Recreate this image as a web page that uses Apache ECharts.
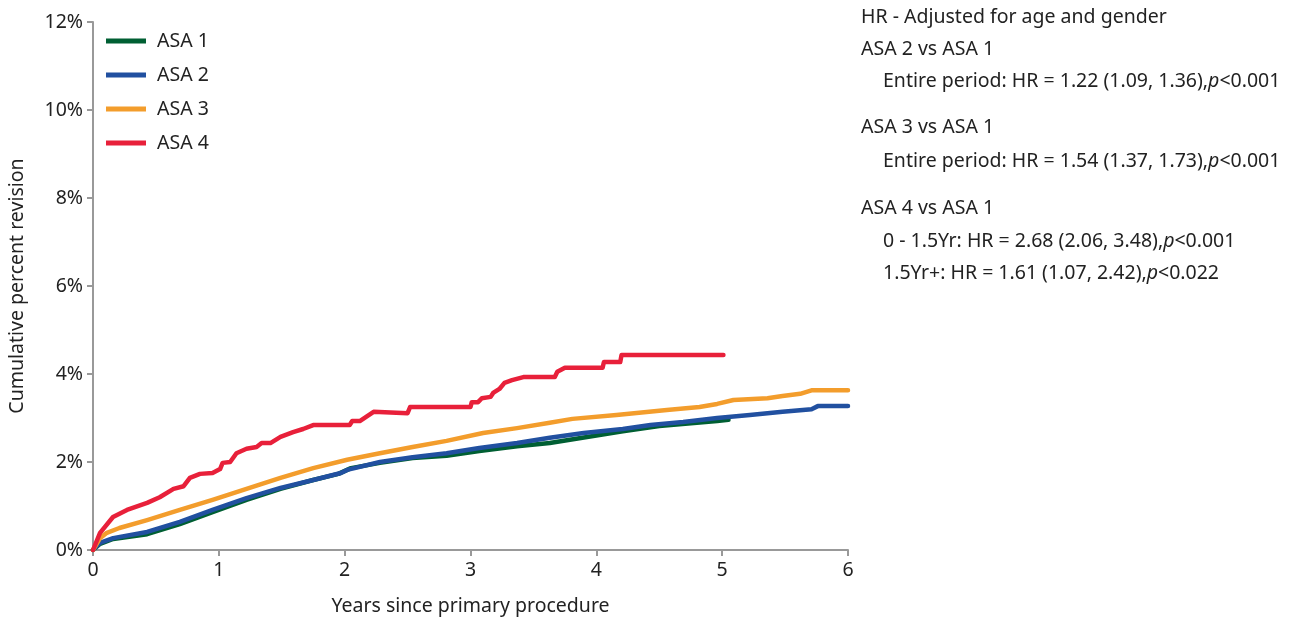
<!DOCTYPE html>
<html>
<head>
<meta charset="utf-8">
<script src="https://cdn.jsdelivr.net/npm/echarts@6/dist/echarts.min.js"></script>
<style>
  html, body { margin: 0; padding: 0; background: #fff; }
  #chart { width: 1295px; height: 620px; }
</style>
</head>
<body>
<div id="chart"></div>
<script>
// years since primary procedure, cumulative percent revision
const asa1 = [
  [0, 0], [0.056, 0.14], [0.16, 0.25], [0.43, 0.36], [0.69, 0.59], [0.95, 0.86],
  [1.22, 1.14], [1.49, 1.39], [1.75, 1.59], [1.95, 1.73], [2.05, 1.86], [2.28, 1.98],
  [2.54, 2.09], [2.81, 2.14], [3.07, 2.25], [3.37, 2.36], [3.63, 2.43], [4.21, 2.70],
  [4.5, 2.82], [4.96, 2.93], [5.05, 2.96]
];
const asa2 = [
  [0, 0], [0.056, 0.16], [0.16, 0.27], [0.43, 0.41], [0.69, 0.64], [0.95, 0.91],
  [1.22, 1.18], [1.49, 1.41], [1.75, 1.59], [1.97, 1.75], [2.02, 1.82], [2.28, 2.0],
  [2.54, 2.11], [2.81, 2.2], [3.07, 2.32], [3.37, 2.43], [3.63, 2.55], [3.9, 2.66],
  [4.21, 2.75], [4.43, 2.84], [4.69, 2.91], [4.96, 3.0], [5.22, 3.07], [5.48, 3.14],
  [5.71, 3.2], [5.76, 3.27], [6.0, 3.27]
];
const asa3 = [
  [0, 0], [0.056, 0.27], [0.11, 0.39], [0.21, 0.5], [0.43, 0.68], [0.69, 0.91],
  [0.95, 1.14], [1.22, 1.39], [1.49, 1.64], [1.75, 1.86], [2.02, 2.05], [2.28, 2.2],
  [2.54, 2.34], [2.81, 2.48], [3.1, 2.66], [3.37, 2.77], [3.63, 2.89], [3.81, 2.98],
  [4.16, 3.07], [4.56, 3.18], [4.82, 3.25], [4.96, 3.32], [5.09, 3.41], [5.36, 3.45],
  [5.48, 3.5], [5.62, 3.55], [5.71, 3.63], [6.0, 3.63]
];
const asa4 = [
  [0, 0], [0.056, 0.39], [0.159, 0.75], [0.27, 0.91], [0.43, 1.07], [0.53, 1.2],
  [0.64, 1.39], [0.72, 1.45], [0.77, 1.64], [0.85, 1.73], [0.95, 1.75], [1.01, 1.84],
  [1.03, 1.98], [1.09, 2.0], [1.14, 2.2], [1.22, 2.3], [1.3, 2.34], [1.34, 2.43],
  [1.41, 2.43], [1.49, 2.57], [1.59, 2.68], [1.67, 2.75], [1.75, 2.84], [2.04, 2.84],
  [2.06, 2.93], [2.12, 2.93], [2.23, 3.14], [2.5, 3.11], [2.52, 3.25], [3.0, 3.25],
  [3.01, 3.36], [3.06, 3.36], [3.09, 3.45], [3.16, 3.48], [3.18, 3.57], [3.23, 3.66],
  [3.27, 3.8], [3.33, 3.86], [3.42, 3.93], [3.67, 3.93], [3.69, 4.05], [3.75, 4.14],
  [4.05, 4.14], [4.06, 4.27], [4.19, 4.27], [4.2, 4.43], [5.01, 4.43]
];

const seriesNames = ["ASA 1", "ASA 2", "ASA 3", "ASA 4"];
const seriesColors = ["#005f33", "#2150a0", "#f39d2c", "#e8203a"];
const seriesData = [asa1, asa2, asa3, asa4];

const yTicks = [0, 2, 4, 6, 8, 10, 12];
const xTicks = [0, 1, 2, 3, 4, 5, 6];

const noteLines = [
  { text: "HR - Adjusted for age and gender", indent: 0, y: 16 },
  { text: "ASA 2 vs ASA 1", indent: 0, y: 48 },
  { text: "Entire period: HR = 1.22 (1.09, 1.36),{i|p}<0.001", indent: 22, y: 80 },
  { text: "ASA 3 vs ASA 1", indent: 0, y: 126 },
  { text: "Entire period: HR = 1.54 (1.37, 1.73),{i|p}<0.001", indent: 22, y: 160 },
  { text: "ASA 4 vs ASA 1", indent: 0, y: 207 },
  { text: "0 - 1.5Yr: HR = 2.68 (2.06, 3.48),{i|p}<0.001", indent: 22, y: 240 },
  { text: "1.5Yr+: HR = 1.61 (1.07, 2.42),{i|p}<0.022", indent: 22, y: 272 }
];

const font = "'Noto Sans', sans-serif";
const fs = 19.5;
const chart = echarts.init(document.getElementById("chart"));

const option = {
  animation: false,
  textStyle: { fontFamily: font },
  grid: { left: 93, right: 447, top: 22, bottom: 70, containLabel: false, outerBoundsMode: "none" },
  legend: {
    orient: "vertical",
    left: 101,
    top: 26,
    icon: "rect",
    itemWidth: 40,
    itemHeight: 5,
    itemGap: 14,
    textStyle: { fontSize: fs, color: "#222", padding: [0, 0, 0, 6] },
    data: seriesNames
  },
  xAxis: {
    type: "value",
    min: xTicks[0],
    max: xTicks[xTicks.length - 1],
    interval: 1,
    name: "Years since primary procedure",
    nameLocation: "middle",
    nameGap: 46,
    nameTextStyle: { fontSize: fs, color: "#222" },
    axisLine: { lineStyle: { color: "#999", width: 2 } },
    axisTick: { show: true, length: 6, lineStyle: { color: "#999", width: 2 } },
    axisLabel: { fontSize: fs, color: "#222", margin: 10 },
    splitLine: { show: false }
  },
  yAxis: {
    type: "value",
    min: yTicks[0],
    max: yTicks[yTicks.length - 1],
    interval: 2,
    name: "Cumulative percent revision",
    nameLocation: "middle",
    nameGap: 66,
    nameTextStyle: { fontSize: fs, color: "#222" },
    axisLine: { show: true, lineStyle: { color: "#999", width: 2 } },
    axisTick: { show: true, length: 6, lineStyle: { color: "#999", width: 2 } },
    axisLabel: { fontSize: fs, color: "#222", margin: 10, formatter: "{value}%" },
    splitLine: { show: false }
  },
  series: seriesNames.map((name, i) => ({
    name: name,
    type: "line",
    data: seriesData[i],
    showSymbol: false,
    symbol: "none",
    color: seriesColors[i],
    lineStyle: { width: 4.5, color: seriesColors[i], cap: "round", join: "round" },
    z: 2 + i
  })),
  graphic: noteLines.map((l) => ({
    type: "text",
    left: 861 + l.indent,
    top: l.y - 9,
    style: {
      text: l.text,
      fontSize: fs,
      fontFamily: font,
      fill: "#222",
      rich: { i: { fontStyle: "italic", fontSize: fs, fontFamily: font, fill: "#222" } }
    }
  }))
};

chart.setOption(option);
</script>
</body>
</html>
